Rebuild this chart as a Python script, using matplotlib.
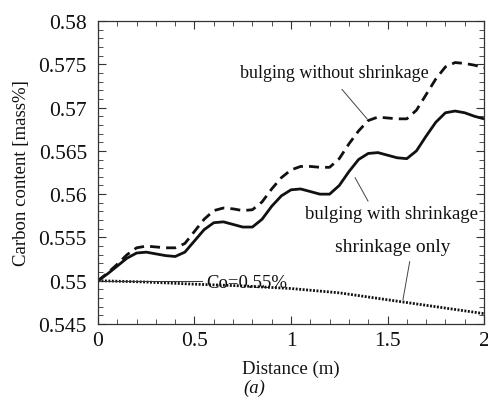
import matplotlib
matplotlib.use("Agg")
import matplotlib.pyplot as plt
from matplotlib.ticker import MultipleLocator

plt.rcParams['font.family'] = ['Liberation Serif', 'DejaVu Serif']

# Distance along the strand (m)
distance = [0.00, 0.05, 0.10, 0.15, 0.20, 0.25, 0.30, 0.35, 0.40, 0.45,
            0.50, 0.55, 0.60, 0.65, 0.70, 0.75, 0.80, 0.85, 0.90, 0.95,
            1.00, 1.05, 1.10, 1.15, 1.20, 1.25, 1.30, 1.35, 1.40, 1.45,
            1.50, 1.55, 1.60, 1.65, 1.70, 1.75, 1.80, 1.85, 1.90, 1.95, 2.00]

# Carbon content, bulging without shrinkage (mass%)
bulging_no_shrink = [0.5500, 0.5509, 0.5519, 0.5530, 0.5538, 0.5540, 0.5539, 0.5538, 0.5538, 0.5543,
                     0.5557, 0.5571, 0.5581, 0.5584, 0.5583, 0.5581, 0.5582, 0.5591, 0.5606, 0.5619,
                     0.5628, 0.5632, 0.5632, 0.5631, 0.5631, 0.5641, 0.5658, 0.5673, 0.5685, 0.5689,
                     0.5688, 0.5687, 0.5687, 0.5697, 0.5715, 0.5733, 0.5747, 0.5752, 0.5751, 0.5749, 0.5746]

# Carbon content, bulging with shrinkage (mass%)
bulging_shrink = [0.5500, 0.5508, 0.5517, 0.5526, 0.5532, 0.5533, 0.5531, 0.5529, 0.5528, 0.5533,
                  0.5546, 0.5559, 0.5567, 0.5568, 0.5565, 0.5562, 0.5562, 0.5571, 0.5586, 0.5598,
                  0.5605, 0.5606, 0.5603, 0.5600, 0.5600, 0.5610, 0.5626, 0.5640, 0.5647, 0.5648,
                  0.5645, 0.5642, 0.5641, 0.5650, 0.5667, 0.5683, 0.5694, 0.5696, 0.5694, 0.5690, 0.5687]

# Carbon content, shrinkage only (mass%)
shrink_dist = [0.00, 0.25, 0.50, 0.75, 1.00, 1.25, 1.50, 1.75, 2.00]
shrink_only = [0.5500, 0.54985, 0.5496, 0.5494, 0.5491, 0.5486, 0.5478, 0.5470, 0.5462]

c0 = 0.55
x_ticks = [0, 0.5, 1, 1.5, 2]
x_tick_labels = ['0', '0.5', '1', '1.5', '2']
y_ticks = [0.545, 0.55, 0.555, 0.56, 0.565, 0.57, 0.575, 0.58]
y_tick_labels = ['0.545', '0.55', '0.555', '0.56', '0.565', '0.57', '0.575', '0.58']

fig = plt.figure(figsize=(4.89, 4.06), dpi=100)
ax = fig.add_axes([0.2004, 0.1995, 0.7894, 0.7463])

ink = '#111111'
ax.plot(distance, bulging_no_shrink, color=ink, lw=2.0, linestyle=(0, (3.6, 2.2)))
ax.plot(distance, bulging_shrink, color=ink, lw=2.0)
ax.plot(shrink_dist, shrink_only, color=ink, lw=2.0, linestyle=(0, (0.7, 0.55)))

# initial carbon content reference line
ax.plot([0, 0.54], [c0, c0], color='#333333', lw=0.7)
ax.text(0.56, c0 - 0.00015, 'Co=0.55%', fontsize=13.5, va='center', ha='left', color=ink)

# leader lines and curve labels
ax.plot([1.264, 1.394], [0.5721, 0.5687], color='#444444', lw=0.7)
ax.text(0.735, 0.5741, 'bulging without shrinkage', fontsize=13, va='center', ha='left', color=ink)

ax.plot([1.332, 1.399], [0.5619, 0.5592], color='#444444', lw=0.7)
ax.text(1.07, 0.5578, 'bulging with shrinkage', fontsize=13.5, va='center', ha='left', color=ink)

ax.plot([1.615, 1.58], [0.5522, 0.5478], color='#444444', lw=0.7)
ax.text(1.23, 0.5539, 'shrinkage only', fontsize=14, va='center', ha='left', color=ink)

ax.set_xlim(0, 2)
ax.set_ylim(0.545, 0.58)
ax.set_xticks(x_ticks)
ax.set_xticklabels(x_tick_labels)
ax.set_yticks(y_ticks)
ax.set_yticklabels(y_tick_labels)
ax.xaxis.set_minor_locator(MultipleLocator(0.1))
ax.yaxis.set_minor_locator(MultipleLocator(0.001))
ax.tick_params(which='both', direction='in', top=True, right=True, colors='#333333',
               labelcolor=ink, labelsize=15.5)
ax.tick_params(axis='y', which='major', pad=8)
ax.tick_params(axis='x', which='major', pad=5)
ax.tick_params(which='major', length=6, width=0.8)
ax.tick_params(which='minor', length=3.5, width=0.6)
for s in ax.spines.values():
    s.set_color('#333333')
    s.set_linewidth(0.9)

ax.set_xlabel('Distance (m)', fontsize=13.5, color=ink, labelpad=7)
ax.set_ylabel('Carbon content [mass%]', fontsize=13.5, color=ink, labelpad=6)
fig.text(0.5194, 0.044, '(a)', fontsize=13.5, style='italic', ha='center', va='center', color=ink)

fig.savefig('out.png', dpi=100)
